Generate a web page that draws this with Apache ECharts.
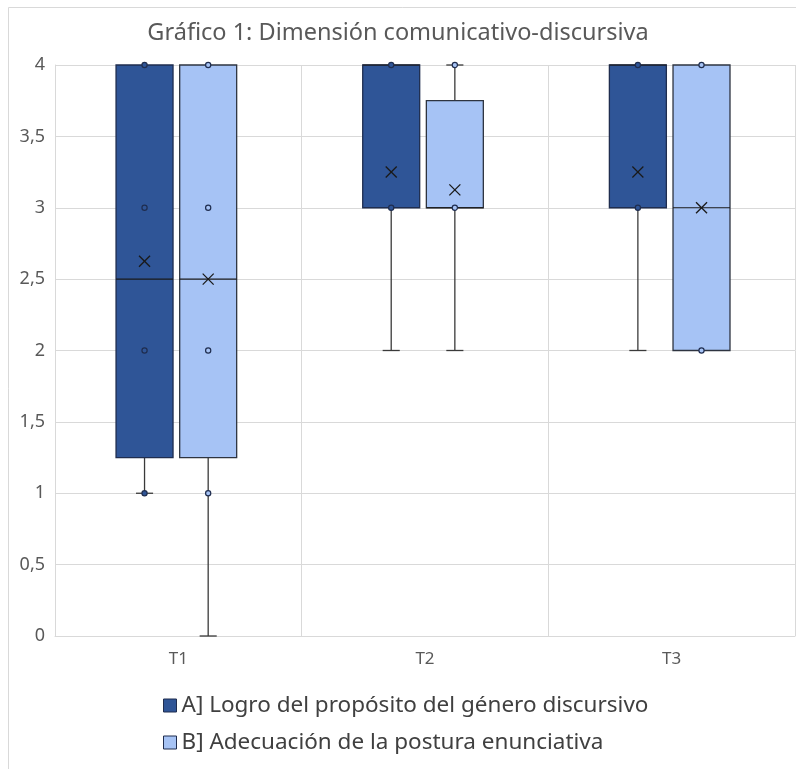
<!DOCTYPE html>
<html>
<head>
<meta charset="utf-8">
<script src="https://cdn.jsdelivr.net/npm/echarts@6/dist/echarts.min.js"></script>
<style>
  html, body { margin: 0; padding: 0; background: #fff; }
  #chart { width: 796px; height: 769px; }
</style>
</head>
<body>
<div id="chart"></div>
<script>
// datos
var categories = ['T1', 'T2', 'T3'];
var seriesNames = ['A] Logro del propósito del género discursivo', 'B] Adecuación de la postura enunciativa'];
// [mín, Q1, mediana, Q3, máx]
var boxA = [[1, 1.25, 2.5, 4, 4], [2, 3, 4, 4, 4], [2, 3, 4, 4, 4]];
var boxB = [[0, 1.25, 2.5, 4, 4], [2, 3, 3, 3.75, 4], [2, 2, 3, 4, 4]];
var meanA = [2.625, 3.25, 3.25];
var meanB = [2.5, 3.125, 3];
var pointsA = [[4, 3, 2, 1], [4, 3], [4, 3]];
var pointsB = [[4, 3, 2, 1], [4, 3], [4, 2]];
var yTicks = [0, 0.5, 1, 1.5, 2, 2.5, 3, 3.5, 4];

var colorA = '#2f5597';
var colorB = '#a6c3f5';
var lineColor = '#3a3a3a';
var font = 'Noto Sans';

function boxData(box, mean) {
  return box.map(function (b, i) { return [i].concat(b, [mean[i]]); });
}
function pointData(points) {
  var out = [];
  points.forEach(function (list, i) {
    list.forEach(function (v) { out.push([i, v]); });
  });
  return out;
}

function boxRender(offset, fill, border) {
  return function (params, api) {
    var c = api.value(0);
    var band = api.size([1, 0])[0];
    var x = api.coord([c, 0])[0] + offset * band;
    var w = band * 0.231;
    var cap = w * 0.3;
    var y = function (v) { return api.coord([c, v])[1]; };
    var vMin = api.value(1), q1 = api.value(2), med = api.value(3), q3 = api.value(4), vMax = api.value(5), mean = api.value(6);
    var ls = { stroke: lineColor, lineWidth: 1.3 };
    var kids = [];
    if (vMin < q1) {
      kids.push({ type: 'line', shape: { x1: x, y1: y(vMin), x2: x, y2: y(q1) }, style: ls });
      kids.push({ type: 'line', shape: { x1: x - cap / 2, y1: y(vMin), x2: x + cap / 2, y2: y(vMin) }, style: ls });
    }
    if (vMax > q3) {
      kids.push({ type: 'line', shape: { x1: x, y1: y(q3), x2: x, y2: y(vMax) }, style: ls });
      kids.push({ type: 'line', shape: { x1: x - cap / 2, y1: y(vMax), x2: x + cap / 2, y2: y(vMax) }, style: ls });
    }
    kids.push({
      type: 'rect',
      shape: { x: x - w / 2, y: y(q3), width: w, height: y(q1) - y(q3) },
      style: { fill: fill, stroke: border, lineWidth: 1.3 }
    });
    kids.push({ type: 'line', shape: { x1: x - w / 2, y1: y(med), x2: x + w / 2, y2: y(med) }, style: { stroke: '#1a1a1a', lineWidth: 1.2 } });
    var ym = y(mean), s = 5.5;
    kids.push({ type: 'line', shape: { x1: x - s, y1: ym - s, x2: x + s, y2: ym + s }, style: { stroke: '#1a1a1a', lineWidth: 1.3 } });
    kids.push({ type: 'line', shape: { x1: x - s, y1: ym + s, x2: x + s, y2: ym - s }, style: { stroke: '#1a1a1a', lineWidth: 1.3 } });
    return { type: 'group', children: kids };
  };
}

function pointRender(offset, fill) {
  return function (params, api) {
    var c = api.value(0);
    var band = api.size([1, 0])[0];
    var p = api.coord([c, api.value(1)]);
    return {
      type: 'circle',
      shape: { cx: p[0] + offset * band, cy: p[1], r: 2.6 },
      style: { fill: fill, stroke: '#1f2d4f', lineWidth: 1.2 }
    };
  };
}

var offA = -0.137, offB = 0.121;

var chart = echarts.init(document.getElementById('chart'), null, { renderer: 'canvas' });
chart.setOption({
  backgroundColor: '#ffffff',
  animation: false,
  title: {
    text: 'Gráfico 1: Dimensión comunicativo-discursiva',
    left: 'center',
    top: 16,
    textStyle: { fontFamily: font, fontSize: 23.5, fontWeight: 'normal', color: '#595959' }
  },
  graphic: [{
    type: 'rect',
    shape: { x: 8.5, y: 7.5, width: 820, height: 820 },
    style: { fill: 'none', stroke: '#d9d9d9', lineWidth: 1 },
    silent: true
  }],
  legend: {
    orient: 'vertical',
    left: 158,
    top: 689,
    itemWidth: 13,
    itemHeight: 13,
    itemGap: 14,
    textStyle: { fontFamily: font, fontSize: 22.5, color: '#404040' },
    data: [
      { name: seriesNames[0], icon: 'rect', itemStyle: { color: colorA, borderColor: '#1f2d4f', borderWidth: 1 } },
      { name: seriesNames[1], icon: 'rect', itemStyle: { color: colorB, borderColor: '#1f2d4f', borderWidth: 1 } }
    ]
  },
  grid: { left: 55, right: 1, top: 65, bottom: 133, containLabel: false },
  xAxis: {
    type: 'category',
    data: categories,
    axisLine: { lineStyle: { color: '#d9d9d9' } },
    axisTick: { show: false },
    axisLabel: { fontFamily: font, fontSize: 17, color: '#595959', margin: 15 },
    splitLine: { show: true, lineStyle: { color: '#d9d9d9' } }
  },
  yAxis: {
    type: 'value',
    min: yTicks[0],
    max: yTicks[yTicks.length - 1],
    interval: 0.5,
    axisLine: { show: true, lineStyle: { color: '#d9d9d9' } },
    axisTick: { show: false },
    axisLabel: {
      fontFamily: font, fontSize: 18, color: '#595959', margin: 10,
      formatter: function (v) { return String(v).replace('.', ','); }
    },
    splitLine: { lineStyle: { color: '#d9d9d9' } }
  },
  series: [
    {
      name: seriesNames[0], type: 'custom', renderItem: boxRender(offA, colorA, '#1f2d4f'),
      itemStyle: { color: colorA }, encode: { x: 0, y: [1, 2, 3, 4, 5] }, data: boxData(boxA, meanA), z: 2
    },
    {
      name: seriesNames[1], type: 'custom', renderItem: boxRender(offB, colorB, '#2e3440'),
      itemStyle: { color: colorB }, encode: { x: 0, y: [1, 2, 3, 4, 5] }, data: boxData(boxB, meanB), z: 2
    },
    {
      name: seriesNames[0], type: 'custom', renderItem: pointRender(offA, colorA),
      itemStyle: { color: colorA }, encode: { x: 0, y: 1 }, data: pointData(pointsA), z: 3
    },
    {
      name: seriesNames[1], type: 'custom', renderItem: pointRender(offB, colorB),
      itemStyle: { color: colorB }, encode: { x: 0, y: 1 }, data: pointData(pointsB), z: 3
    }
  ]
});
</script>
</body>
</html>
